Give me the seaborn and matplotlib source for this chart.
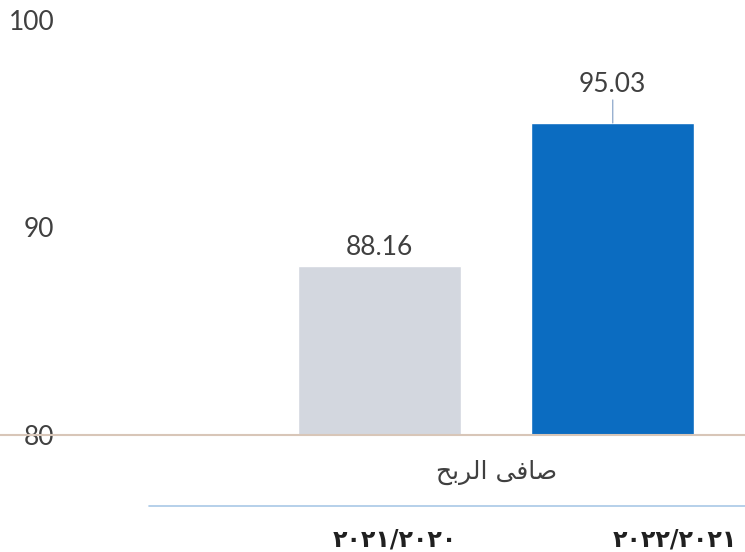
import matplotlib
matplotlib.use("Agg")
import matplotlib.pyplot as plt
from matplotlib.lines import Line2D
import seaborn as sns
import pandas as pd

# data
metric = "صافى الربح"
years = ["٢٠٢١/٢٠٢٠", "٢٠٢٢/٢٠٢١"]
values = [88.16, 95.03]
colors = ["#d3d7df", "#0b6cc1"]
yticks = [80, 90, 100]


def shape_ar(text):
    """Minimal Arabic shaping (presentation forms) + visual reversal,
    since matplotlib has no complex text layout."""
    forms = {
        "ص": ("\uFEB9", "\uFEBA", "\uFEBB", "\uFEBC"),
        "ا": ("\uFE8D", "\uFE8E", None, None),
        "ف": ("\uFED1", "\uFED2", "\uFED3", "\uFED4"),
        "ى": ("\uFEEF", "\uFEF0", None, None),
        "ل": ("\uFEDD", "\uFEDE", "\uFEDF", "\uFEE0"),
        "ر": ("\uFEAD", "\uFEAE", None, None),
        "ب": ("\uFE8F", "\uFE90", "\uFE91", "\uFE92"),
        "ح": ("\uFEA1", "\uFEA2", "\uFEA3", "\uFEA4"),
    }
    out = []
    for i, ch in enumerate(text):
        if ch not in forms:
            out.append(ch)
            continue
        prev = text[i - 1] if i > 0 else ""
        nxt = text[i + 1] if i + 1 < len(text) else ""
        join_prev = prev in forms and forms[prev][2] is not None
        join_next = nxt in forms and forms[ch][2] is not None
        if join_prev and join_next:
            out.append(forms[ch][3])
        elif join_prev:
            out.append(forms[ch][1])
        elif join_next:
            out.append(forms[ch][2])
        else:
            out.append(forms[ch][0])
    return "".join(out)[::-1]


df = pd.DataFrame({"metric": [metric] * len(values), "year": years, "value": values})

sns.set_style("white")
plt.rcParams["font.family"] = ["Lato", "DejaVu Sans"]

fig = plt.figure(figsize=(7.45, 5.52), dpi=100)
ax = fig.add_axes([0.0, 0.212, 1.0, 0.752])

sns.barplot(data=df, x="metric", y="value", hue="year", hue_order=years,
            palette=colors, saturation=1, width=0.8, gap=0.3, legend=False, ax=ax)

ax.set_ylim(80, 100)
ax.set_xlim(-0.852, 0.427)
ax.set_yticks(yticks)
ax.tick_params(axis="y", length=0, pad=-39, labelsize=19, labelcolor="#404040")
ax.tick_params(axis="x", length=0, pad=18)
ax.set_xticks([0])
ax.set_xticklabels([shape_ar(metric)], fontsize=18, color="#404040",
                   family="DejaVu Sans")
ax.set_xlabel("")
ax.set_ylabel("")

for s in ["left", "top", "right"]:
    ax.spines[s].set_visible(False)
ax.spines["bottom"].set_color("#d8c6b8")
ax.spines["bottom"].set_linewidth(1.5)

# data labels (second one has a leader line like the original)
offsets = [13, 28]
for bar, val, off in zip(ax.patches, values, offsets):
    cx = bar.get_x() + bar.get_width() / 2
    arrow = dict(arrowstyle="-", color="#7f9cc4", lw=0.8, shrinkA=0, shrinkB=0) if off > 20 else None
    ax.annotate(f"{val:.2f}", xy=(cx, val), xytext=(0, off), textcoords="offset points",
                ha="center", va="center", fontsize=19, color="#404040",
                arrowprops=arrow)

# legend row under the chart
fig.add_artist(Line2D([0.2, 1.0], [0.083, 0.083], color="#a9c8e6", lw=1.2))
fig.text(0.53, 0.022, years[0], ha="center", va="center", fontsize=17,
         fontweight="bold", color="#202020", family="DejaVu Sans")
fig.text(0.822, 0.022, years[1], ha="left", va="center", fontsize=17,
         fontweight="bold", color="#202020", family="DejaVu Sans")

fig.savefig("out.png", dpi=100)
